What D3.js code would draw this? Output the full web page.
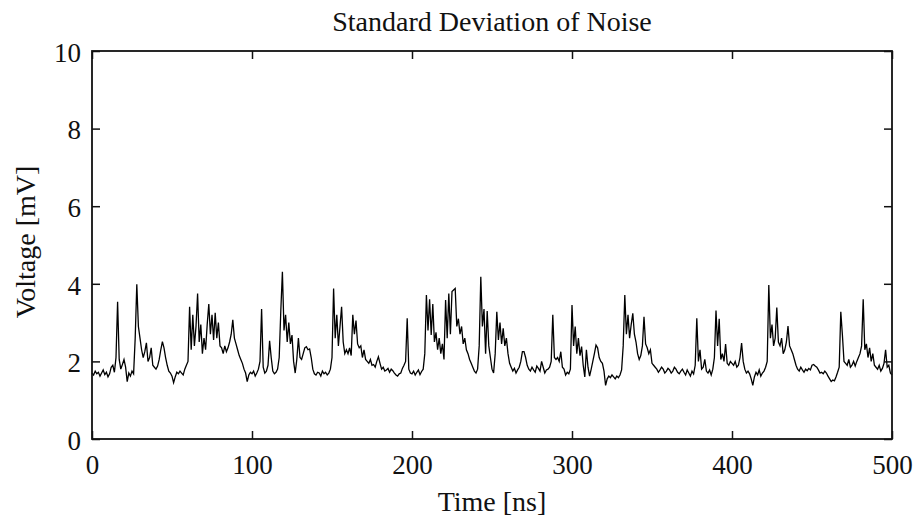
<!DOCTYPE html>
<html>
<head>
<meta charset="utf-8">
<script src="https://cdn.jsdelivr.net/npm/d3@7"></script>
<style>
    body { margin: 0; background: #fff; }
    svg text { font-family: "Liberation Serif", "Times New Roman", serif; fill: #111; }
</style>
</head>
<body>
<svg id="chart" width="917" height="516"></svg>
<script>

// chart data (one sample per ns)
const chartTitle = "Standard Deviation of Noise";
const xLabel = "Time [ns]";
const yLabel = "Voltage [mV]";
const timeStep = 1;
const xTicks = [0, 100, 200, 300, 400, 500];
const yTicks = [0, 2, 4, 6, 8, 10];

const voltage = [
    1.70,1.65,1.75,1.68,1.72,1.62,1.70,1.78,1.66,1.72,
    1.60,1.68,1.85,1.90,1.72,2.10,3.54,2.05,1.80,1.92,
    2.05,1.85,1.48,1.70,1.62,1.75,1.68,2.60,3.99,2.90,
    2.60,2.30,2.10,2.25,2.48,2.00,2.10,2.35,1.90,1.85,
    1.80,1.88,2.05,2.30,2.51,2.35,2.10,1.90,1.75,1.70,
    1.62,1.45,1.60,1.72,1.68,1.75,1.70,1.65,1.80,1.90,
    2.00,3.41,2.30,3.20,2.40,2.90,3.75,2.50,2.95,2.20,
    2.60,2.30,2.95,3.48,2.70,3.20,2.55,3.25,2.60,3.00,
    2.40,2.35,2.20,2.40,2.25,2.35,2.50,2.70,3.07,2.60,
    2.45,2.30,2.15,2.05,1.95,1.80,1.70,1.48,1.65,1.72,
    1.68,1.75,1.62,1.70,1.80,2.00,3.35,1.85,1.70,1.75,
    1.90,2.53,2.10,1.75,1.68,1.72,1.80,2.10,3.30,4.31,
    2.80,3.20,2.50,3.00,2.45,2.68,2.00,1.70,2.05,2.60,
    2.10,2.05,2.20,2.35,2.38,2.30,2.32,2.10,1.80,1.68,
    1.65,1.72,1.70,1.62,1.75,1.68,1.72,1.65,1.70,1.80,
    2.10,3.88,2.60,3.20,2.40,2.90,3.41,2.50,2.20,2.30,
    2.20,2.35,2.15,3.20,2.70,3.05,2.45,2.35,2.40,2.10,
    2.30,2.05,2.00,1.95,2.05,1.90,1.92,1.85,2.00,2.12,
    1.95,1.80,1.85,1.75,1.78,1.82,1.72,1.80,1.76,1.70,
    1.65,1.62,1.68,1.70,1.82,1.90,2.00,3.11,1.80,1.70,
    1.68,1.75,1.65,1.72,1.78,1.66,1.74,1.80,2.20,3.71,
    2.80,3.60,2.68,3.48,2.50,2.75,2.30,2.60,2.20,2.45,
    2.05,3.58,2.60,3.75,2.70,3.80,3.84,3.88,2.90,3.10,
    2.70,2.90,2.45,2.60,2.30,2.20,2.05,1.95,1.85,1.75,
    1.70,1.80,2.40,4.18,2.90,3.35,2.20,3.30,2.40,2.10,
    1.80,1.70,2.20,3.28,2.55,3.00,2.45,2.85,2.40,2.60,
    2.20,1.95,1.85,1.75,1.82,1.70,1.78,1.85,2.00,2.25,
    2.25,2.10,1.90,1.80,1.75,1.85,1.78,1.72,1.88,1.82,
    1.75,2.00,1.85,1.70,1.78,1.80,1.85,2.00,3.20,2.10,
    2.05,2.10,2.00,2.25,1.85,1.80,1.65,1.72,1.68,1.80,
    3.45,2.40,2.90,2.20,2.60,2.15,2.38,1.90,1.60,2.30,
    1.85,1.62,1.80,2.00,2.20,2.42,2.35,2.10,2.00,1.95,
    1.75,1.38,1.55,1.62,1.58,1.65,1.60,1.55,1.62,1.58,
    1.65,1.78,2.40,3.71,2.70,3.20,2.60,2.95,3.24,2.70,
    2.50,2.20,2.05,2.15,2.40,3.15,2.45,2.35,2.20,2.30,
    1.95,1.90,1.85,1.80,1.72,1.78,1.85,1.80,1.70,1.75,
    1.82,1.78,1.70,1.75,1.85,1.80,1.72,1.68,1.75,1.80,
    1.72,1.65,1.78,1.70,1.62,1.75,1.68,1.90,3.11,2.00,
    2.30,1.80,1.85,2.05,1.75,1.70,1.78,1.65,1.80,2.10,
    3.31,2.40,3.10,2.05,2.20,2.00,2.45,1.95,1.90,2.00,
    1.95,1.90,2.00,1.85,1.90,2.10,2.47,2.00,1.80,1.70,
    1.75,1.68,1.55,1.38,1.60,1.72,1.65,1.78,1.62,1.70,
    1.75,1.85,2.00,3.97,2.60,2.95,2.40,2.60,3.39,2.50,
    2.40,2.60,2.20,2.30,2.50,2.91,2.40,2.30,2.20,2.05,
    1.90,1.80,1.75,1.85,1.78,1.72,1.80,1.76,1.82,1.78,
    1.90,1.92,1.88,1.85,1.78,1.70,1.72,1.68,1.75,1.70,
    1.62,1.55,1.48,1.52,1.50,1.60,1.72,1.85,3.28,2.68,
    2.00,1.95,1.90,2.05,1.85,1.90,2.00,1.88,2.00,2.10,
    2.20,2.40,3.60,2.30,2.45,2.10,2.35,2.00,2.20,1.90,
    1.85,1.80,1.90,1.75,1.82,1.95,2.30,1.85,1.90,1.70,
    1.65
];

// layout
const margin = {left: 92, right: 25, top: 51, bottom: 77};
const width = 917, height = 516;
const tickFont = 27;
const labelFont = 28;
const tickLen = 8;

let svg = d3.select("#chart");

let xScale = d3.scaleLinear()
               .domain([0, 500])
               .range([margin.left, width - margin.right]);
let yScale = d3.scaleLinear()
               .domain([0, 10])
               .range([height - margin.bottom, margin.top]);

function x(d, i) { return xScale(i * timeStep) }
function y(d) { return yScale(d) }

// axes, ticks pointing inward on all four sides
function drawAxes() {
    let bottom = svg.append("g")
                    .attr("transform", `translate(0,${yScale(0)})`)
                    .call(d3.axisBottom(xScale).tickValues(xTicks).tickSizeInner(-tickLen).tickSizeOuter(0));
    bottom.selectAll("text")
          .attr("dy", null)
          .attr("y", 35)
          .style("font-size", tickFont + "px");

    let left = svg.append("g")
                  .attr("transform", `translate(${xScale(0)},0)`)
                  .call(d3.axisLeft(yScale).tickValues(yTicks).tickSizeInner(-tickLen).tickSizeOuter(0).tickPadding(11));
    left.selectAll("text")
        .attr("dy", "0.38em")
        .style("font-size", tickFont + "px");

    svg.append("g")
       .attr("transform", `translate(0,${yScale(10)})`)
       .call(d3.axisTop(xScale).tickValues(xTicks).tickSizeInner(-tickLen).tickSizeOuter(0).tickFormat(""));

    svg.append("g")
       .attr("transform", `translate(${xScale(500)},0)`)
       .call(d3.axisRight(yScale).tickValues(yTicks).tickSizeInner(-tickLen).tickSizeOuter(0).tickFormat(""));

    svg.selectAll(".domain").remove();
    svg.selectAll(".tick line")
       .attr("stroke", "#111")
       .attr("stroke-width", 1.5);
    svg.selectAll(".tick text")
       .attr("font-family", null);
}

function drawFrame() {
    svg.append("rect")
       .attr("x", xScale(0))
       .attr("y", yScale(10))
       .attr("width", xScale(500) - xScale(0))
       .attr("height", yScale(0) - yScale(10))
       .attr("fill", "none")
       .attr("stroke", "#111")
       .attr("stroke-width", 1.8);
}

function drawLine() {
    let line = d3.line()
                 .x((d, i) => x(d, i))
                 .y(d => y(d));
    svg.append("path")
       .datum(voltage)
       .attr("d", line)
       .attr("fill", "none")
       .attr("stroke", "#000")
       .attr("stroke-width", 1.3)
       .attr("stroke-linejoin", "miter");
}

function drawLabels() {
    svg.append("text")
       .attr("x", (xScale(0) + xScale(500)) / 2)
       .attr("y", 31)
       .attr("text-anchor", "middle")
       .style("font-size", labelFont + "px")
       .text(chartTitle);

    svg.append("text")
       .attr("x", (xScale(0) + xScale(500)) / 2)
       .attr("y", 511)
       .attr("text-anchor", "middle")
       .style("font-size", labelFont + "px")
       .text(xLabel);

    svg.append("text")
       .attr("transform", `translate(35,${(yScale(0) + yScale(10)) / 2 - 3}) rotate(-90)`)
       .attr("text-anchor", "middle")
       .style("font-size", labelFont + "px")
       .text(yLabel);
}

drawLine();
drawAxes();
drawFrame();
drawLabels();

</script>
</body>
</html>
